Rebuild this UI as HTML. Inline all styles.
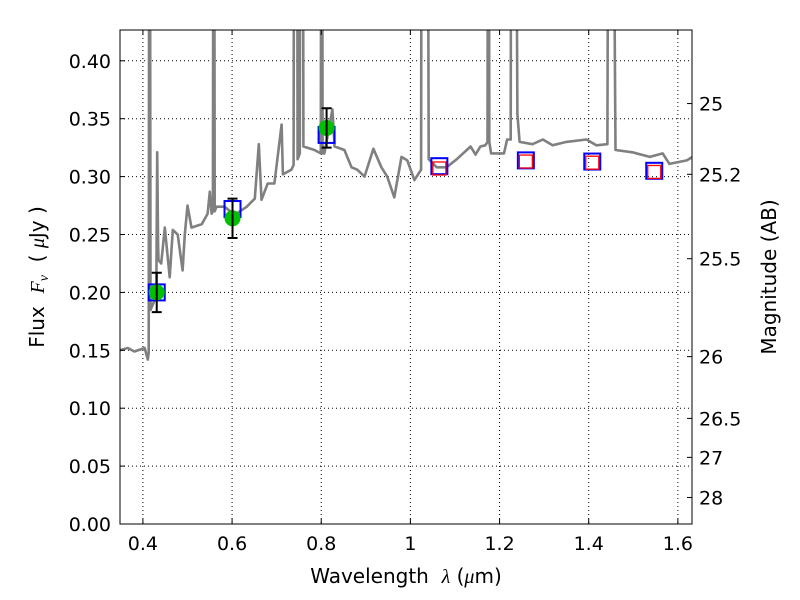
<!DOCTYPE html>
<html><head><meta charset="utf-8"><style>
html,body{margin:0;padding:0;background:#fff;}
svg{display:block;font-family:"DejaVu Sans","Liberation Sans",sans-serif;}
</style></head><body>
<svg id="chart" width="800" height="600" viewBox="0 0 800 600" xmlns="http://www.w3.org/2000/svg">
<defs><clipPath id="clip"><rect x="120" y="30" width="572" height="494"/></clipPath></defs>
<rect x="0" y="0" width="800" height="600" fill="#fff"/>
<g id="grid"></g>
<g id="spec" clip-path="url(#clip)"></g>
<g id="marks" clip-path="url(#clip)"></g>
<rect x="120" y="30" width="572" height="494" fill="none" stroke="#000" stroke-width="1"/>
<g id="axes"></g>
<text x="406" y="583" font-size="20" text-anchor="middle">Wavelength&#160;&#160;<tspan font-style="italic" font-family="Liberation Serif, serif">λ</tspan> (<tspan font-style="italic" font-family="Liberation Serif, serif">μ</tspan>m)</text>
<text transform="translate(44,277) rotate(-90)" font-size="20" text-anchor="middle">Flux&#160;&#160;<tspan font-style="italic" font-family="Liberation Serif, serif">F<tspan font-size="14" dy="4">ν</tspan></tspan><tspan dy="-4">&#160;&#160;( </tspan><tspan font-style="italic" font-family="Liberation Serif, serif">μ</tspan>Jy )</text>
<text transform="translate(776,277) rotate(-90)" font-size="20" text-anchor="middle">Magnitude (AB)</text>
</svg>
<script>
const specLam = [0.348,0.366,0.381,0.404,0.411,0.413,0.415,0.417,0.426,0.430,0.432,0.434,0.435,0.441,0.449,0.460,0.467,0.478,0.489,0.494,0.500,0.509,0.532,0.545,0.550,0.554,0.557,0.559,0.561,0.565,0.583,0.606,0.633,0.651,0.660,0.666,0.680,0.695,0.711,0.714,0.733,0.738,0.740,0.745,0.747,0.752,0.754,0.758,0.760,0.785,0.799,0.801,0.803,0.807,0.825,0.830,0.852,0.868,0.881,0.897,0.917,0.935,0.948,0.964,0.980,0.993,1.009,1.024,1.026,1.037,1.041,1.059,1.081,1.104,1.135,1.146,1.157,1.168,1.173,1.175,1.177,1.181,1.210,1.217,1.225,1.227,1.233,1.240,1.245,1.274,1.297,1.319,1.350,1.395,1.417,1.442,1.446,1.450,1.460,1.498,1.537,1.566,1.581,1.620,1.633];
const specFlux = [0.150,0.152,0.149,0.152,0.142,0.148,0.9,0.185,0.193,0.200,0.321,0.24,0.228,0.225,0.256,0.213,0.254,0.250,0.219,0.250,0.275,0.256,0.259,0.268,0.287,0.268,0.27,0.9,0.27,0.274,0.274,0.267,0.274,0.281,0.328,0.280,0.294,0.294,0.345,0.302,0.306,0.31,0.9,0.9,0.315,0.32,0.9,0.9,0.326,0.323,0.32,0.9,0.32,0.320,0.358,0.326,0.323,0.308,0.306,0.300,0.324,0.308,0.300,0.282,0.317,0.314,0.297,0.306,0.9,0.9,0.315,0.308,0.308,0.315,0.326,0.319,0.326,0.327,0.33,0.9,0.33,0.320,0.320,0.332,0.332,0.9,0.9,0.354,0.330,0.328,0.332,0.327,0.330,0.332,0.327,0.328,0.9,0.9,0.323,0.321,0.317,0.320,0.311,0.314,0.317];
const obsLam = [0.431,0.601,0.812];
const obsFlux = [0.200,0.264,0.342];
const obsErr = [0.017,0.017,0.017];
const modLam = [0.431,0.601,0.812,1.065,1.259,1.408,1.547];
const modFlux = [0.200,0.272,0.336,0.309,0.314,0.313,0.305];
const redLam = [1.065,1.259,1.408,1.547];
const redFlux = [0.307,0.313,0.312,0.304];
const xTicks = [0.4,0.6,0.8,1.0,1.2,1.4,1.6];
const xTickLabels = ["0.4","0.6","0.8","1","1.2","1.4","1.6"];
const yTicks = [0,0.05,0.1,0.15,0.2,0.25,0.3,0.35,0.4];
const yTickLabels = ["0.00","0.05","0.10","0.15","0.20","0.25","0.30","0.35","0.40"];
const magTicks = [25,25.2,25.5,26,26.5,27,28];
const magTickLabels = ["25","25.2","25.5","26","26.5","27","28"];

const X0=120,X1=692,Y0=524,Y1=30,LMIN=0.3486,LMAX=1.6317,FMIN=0,FMAX=0.4266;
const sx=l=>X0+(l-LMIN)/(LMAX-LMIN)*(X1-X0);
const sy=f=>Y0-(f-FMIN)/(FMAX-FMIN)*(Y0-Y1);
const NS="http://www.w3.org/2000/svg";
function mk(tag,attrs,parent){const e=document.createElementNS(NS,tag);for(const k in attrs)e.setAttribute(k,attrs[k]);parent.appendChild(e);return e;}
const grid=document.getElementById('grid'),axes=document.getElementById('axes'),spec=document.getElementById('spec'),marks=document.getElementById('marks');

xTicks.forEach((t,i)=>{const x=sx(t);
 const g=mk('line',{x1:x,x2:x,y1:Y1,y2:Y0,stroke:'#000','stroke-width':1,'stroke-dasharray':'1,3'},grid);
 
 
 const a=mk('line',{x1:x,x2:x,y1:Y0,y2:Y0-5,stroke:'#000'},axes);
 const b=mk('line',{x1:x,x2:x,y1:Y1,y2:Y1+5,stroke:'#000'},axes);
 const tx=mk('text',{x:x,y:Y0+26,'font-size':19,'text-anchor':'middle'},axes);tx.textContent=xTickLabels[i];
 
 
});
yTicks.forEach((t,i)=>{const y=sy(t);
 const g=mk('line',{x1:X0,x2:X1,y1:y,y2:y,stroke:'#000','stroke-width':1,'stroke-dasharray':'1,3'},grid);
 
 
 const a=mk('line',{x1:X0,x2:X0+5,y1:y,y2:y,stroke:'#000'},axes);
 const tx=mk('text',{x:X0-9,y:y+7,'font-size':19,'text-anchor':'end'},axes);tx.textContent=yTickLabels[i];
 
 
});
magTicks.forEach((m,i)=>{const y=sy(Math.pow(10,(23.9-m)/2.5));
 const a=mk('line',{x1:X1-5,x2:X1,y1:y,y2:y,stroke:'#000'},axes);
 const tx=mk('text',{x:X1+7,y:y+7,'font-size':19},axes);tx.textContent=magTickLabels[i];
 
 
});
const pts=specLam.map((l,i)=>sx(l).toFixed(1)+','+sy(specFlux[i]).toFixed(1)).join(' ');
const pl=mk('polyline',{points:pts,fill:'none',stroke:'#808080','stroke-width':2.6,'stroke-linejoin':'round'},spec);


modLam.forEach((l,i)=>{const x=sx(l),y=sy(modFlux[i]);
 const r=mk('rect',{x:x-8,y:y-8,width:16,height:16,fill:'none',stroke:'#0000ff','stroke-width':2},marks);
 
 
});
redLam.forEach((l,i)=>{const x=sx(l),y=sy(redFlux[i]);
 const r=mk('rect',{x:x-6.5,y:y-6.5,width:13,height:13,fill:'none',stroke:'#ff0000','stroke-width':1.3},marks);
 
 
});
obsLam.forEach((l,i)=>{const x=sx(l),y=sy(obsFlux[i]),yt=sy(obsFlux[i]+obsErr[i]),yb=sy(obsFlux[i]-obsErr[i]);
 const c=mk('circle',{cx:x,cy:y,r:8,fill:'#00c000'},marks);
 
 
 const e=mk('path',{d:`M${x},${yt}V${yb}M${x-5},${yt}H${x+5}M${x-5},${yb}H${x+5}`,stroke:'#000','stroke-width':2,fill:'none'},marks);
 
 
});
</script>
</body></html>
